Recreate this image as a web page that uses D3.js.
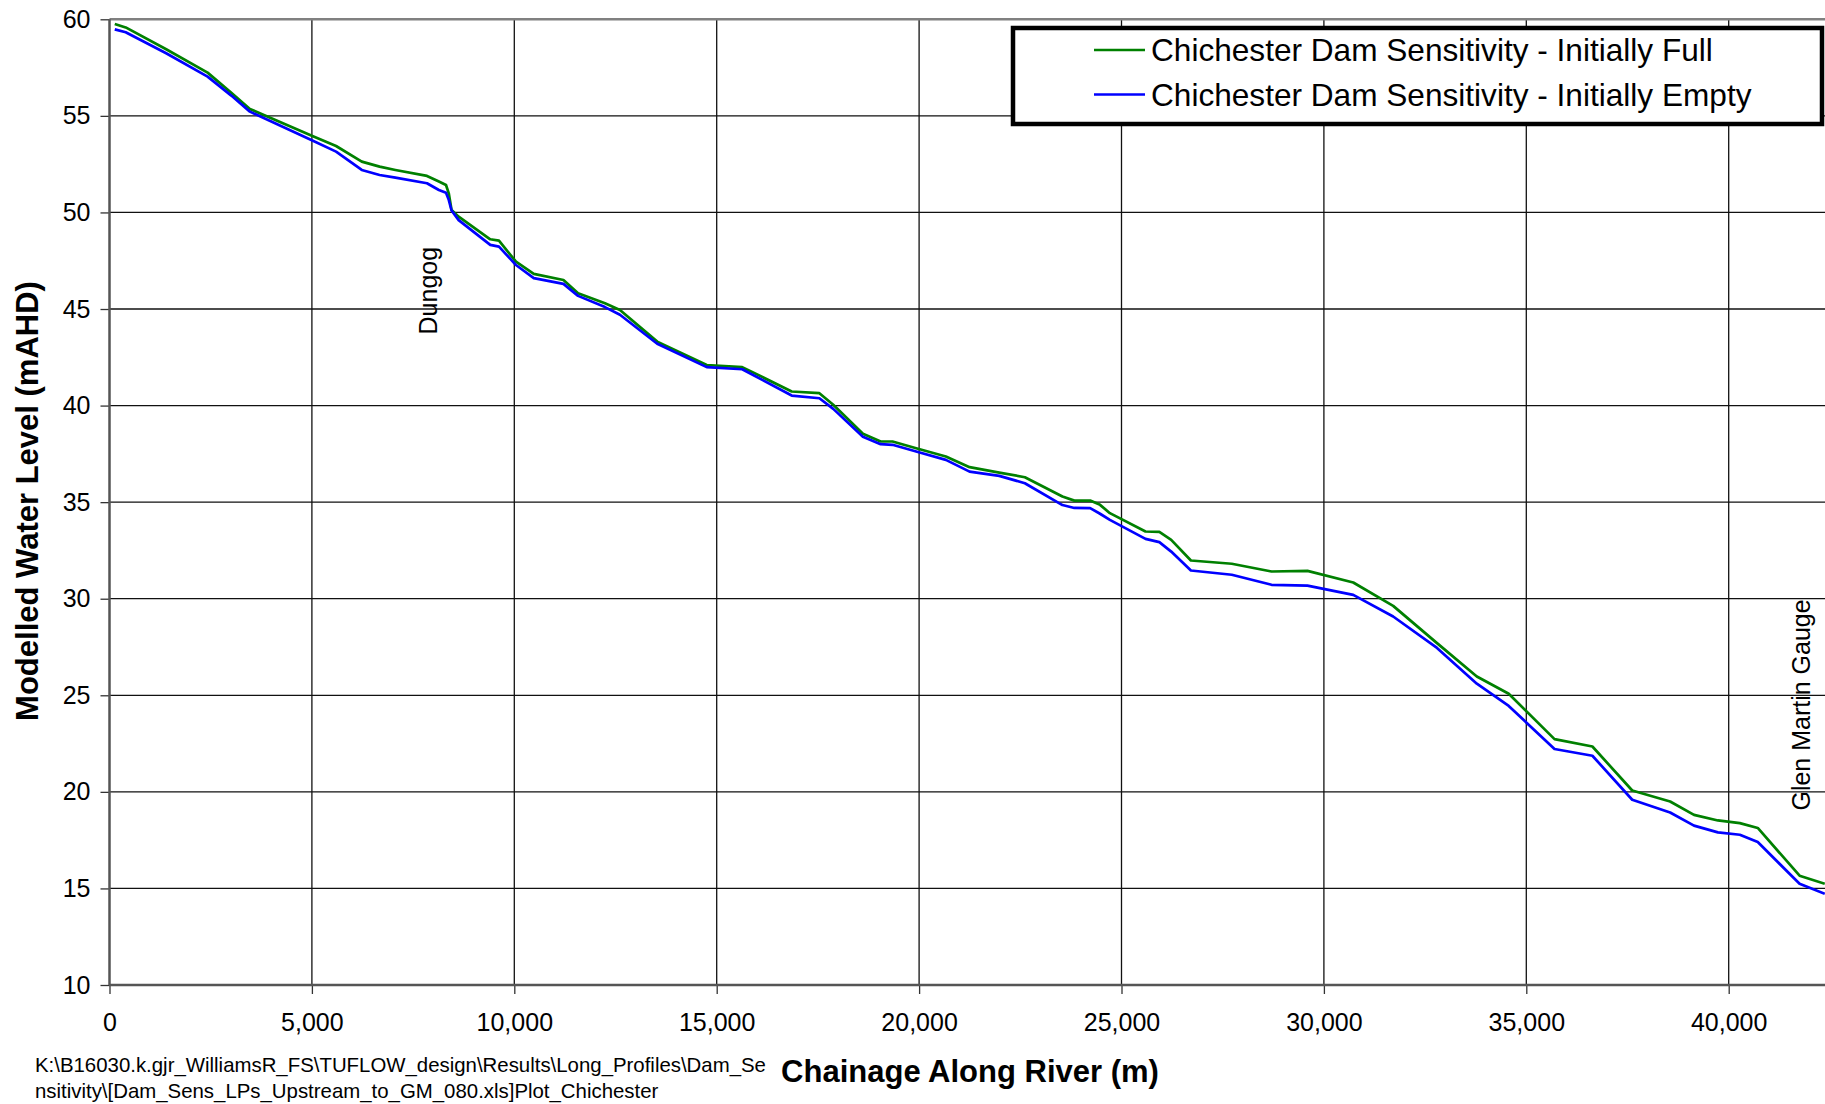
<!DOCTYPE html>
<html><head><meta charset="utf-8">
<script src="https://cdn.jsdelivr.net/npm/d3@7"></script>
<style>
html,body{margin:0;padding:0;background:#fff;overflow:hidden;}
text{font-family:"Liberation Sans",Arial,sans-serif;fill:#000;}
</style></head>
<body>
<svg id="chart" width="1825" height="1104"></svg>
<script>
// ---- data ----
const chainage = [130,400,1400,2423,3009,3468,5012,5597,6232,6672,7062,7843,8137,8313,8381,8450,8625,9406,9621,10041,10481,11214,11575,12240,12610,13531,14754,15630,16853,17537,17879,18612,19050,19343,19928,20661,21247,21980,22613,23541,23835,24226,24470,24713,25593,25935,26228,26715,27724,28706,29594,30725,31711,32794,33778,34566,35697,36633,37617,38553,39143,39733,40275,40718,41751,42373];
const initiallyFull = [59.76,59.58,58.45,57.24,56.2,55.36,53.96,53.44,52.63,52.37,52.2,51.89,51.6,51.42,50.99,50.13,49.78,48.61,48.54,47.45,46.82,46.5,45.82,45.3,44.95,43.31,42.1,41.99,40.73,40.64,40.04,38.54,38.14,38.14,37.79,37.36,36.81,36.53,36.29,35.29,35.08,35.08,34.86,34.43,33.48,33.46,33.05,31.98,31.81,31.41,31.44,30.84,29.63,27.7,25.97,25.08,22.73,22.35,20.07,19.5,18.81,18.52,18.38,18.13,15.66,15.24];
const initiallyEmpty = [59.48,59.33,58.24,57.03,56.05,55.22,53.72,53.15,52.2,51.94,51.8,51.51,51.16,51.02,50.65,50.1,49.6,48.32,48.23,47.28,46.6,46.3,45.68,45.1,44.7,43.2,41.99,41.88,40.52,40.38,39.83,38.39,38.0,37.97,37.62,37.19,36.58,36.36,35.98,34.85,34.7,34.69,34.4,34.08,33.1,32.93,32.44,31.46,31.24,30.72,30.68,30.2,29.08,27.45,25.6,24.45,22.22,21.87,19.59,18.93,18.25,17.9,17.78,17.4,15.24,14.72];
const seriesNames = ["Chichester Dam Sensitivity - Initially Full","Chichester Dam Sensitivity - Initially Empty"];
const seriesColors = ["#008000","#0000ff"];
const xTicks = [0,5000,10000,15000,20000,25000,30000,35000,40000];
const yTicks = [10,15,20,25,30,35,40,45,50,55,60];
const annotations = [{label:"Dungog", chainage:8100, level:45.95},{label:"Glen Martin Gauge", chainage:42000, level:24.5}];
const footnote = ["K:\\B16030.k.gjr_WilliamsR_FS\\TUFLOW_design\\Results\\Long_Profiles\\Dam_Se","nsitivity\\[Dam_Sens_LPs_Upstream_to_GM_080.xls]Plot_Chichester"];

// ---- layout ----
const svg = d3.select("#chart");
const mLeft = 109.5, mTop = 19.3, mBottom = 985;
const x = d3.scaleLinear().domain([0,45000]).range([mLeft, mLeft + 9*202.4]);
const y = d3.scaleLinear().domain([10,60]).range([mBottom, mTop]);
const mRight = x(45000);

// grid
const g = svg.append("g");
g.selectAll(".hg").data(yTicks.filter(v=>v>10 && v<60)).enter().append("line")
  .attr("x1", mLeft).attr("x2", mRight).attr("y1", d=>y(d)).attr("y2", d=>y(d))
  .attr("stroke","#111").attr("stroke-width",1.3);
g.selectAll(".vg").data(xTicks.filter(v=>v>0)).enter().append("line")
  .attr("y1", mTop).attr("y2", mBottom).attr("x1", d=>x(d)).attr("x2", d=>x(d))
  .attr("stroke","#111").attr("stroke-width",1.3);
g.append("line").attr("x1",mLeft).attr("x2",mRight).attr("y1",mTop).attr("y2",mTop)
  .attr("stroke","#808080").attr("stroke-width",2.5);

// axes
const xAxis = d3.axisBottom(x).tickValues(xTicks).tickSize(9).tickPadding(19)
  .tickFormat(d3.format(","));
const yAxis = d3.axisLeft(y).tickValues(yTicks).tickSize(9).tickPadding(10)
  .tickFormat(d3.format("d"));
const gx = svg.append("g").attr("transform",`translate(0,${mBottom})`).call(xAxis);
const gy = svg.append("g").attr("transform",`translate(${mLeft},0)`).call(yAxis);
[gx,gy].forEach(a=>{
  a.select(".domain").remove();
  a.selectAll(".tick line").attr("stroke","#333").attr("stroke-width",1.3);
  a.selectAll(".tick text").style("font-family","'Liberation Sans',Arial,sans-serif")
    .style("font-size","25px").attr("fill","#000");
});
svg.append("line").attr("x1",mLeft).attr("x2",mLeft).attr("y1",mTop).attr("y2",mBottom)
  .attr("stroke","#555").attr("stroke-width",2.5);
svg.append("line").attr("x1",mLeft).attr("x2",mRight).attr("y1",mBottom).attr("y2",mBottom)
  .attr("stroke","#555").attr("stroke-width",2.5);

// lines
const series = [initiallyFull, initiallyEmpty];
const line = d3.line().x(d=>x(d[0])).y(d=>y(d[1]));
series.forEach((vals,i)=>{
  svg.append("path").datum(chainage.map((c,j)=>[c,vals[j]]))
    .attr("d",line).attr("fill","none").attr("stroke",seriesColors[i])
    .attr("stroke-width",2.7).attr("stroke-linejoin","round");
});

// annotations (vertical text)
annotations.forEach(a=>{
  svg.append("text").attr("transform",`translate(${x(a.chainage)},${y(a.level)}) rotate(-90)`)
    .attr("text-anchor","middle").style("font-size","25px").text(a.label);
});

// legend
const lg = svg.append("g");
lg.append("rect").attr("x",1013).attr("y",28).attr("width",809).attr("height",96)
  .attr("fill","#fff").attr("stroke","#000").attr("stroke-width",4.5);
seriesNames.forEach((n,i)=>{
  const yy = 50 + i*44.5;
  lg.append("line").attr("x1",1094).attr("x2",1145).attr("y1",yy).attr("y2",yy)
    .attr("stroke",seriesColors[i]).attr("stroke-width",2.7);
  lg.append("text").attr("x",1151).attr("y",yy+11).style("font-size","31.6px").text(n);
});

// axis titles
svg.append("text").attr("x",970).attr("y",1082).attr("text-anchor","middle")
  .style("font-size","31px").style("font-weight","bold").text("Chainage Along River (m)");
svg.append("text").attr("transform","translate(38,501) rotate(-90)").attr("text-anchor","middle")
  .style("font-size","31px").style("font-weight","bold").text("Modelled Water Level (mAHD)");

// footnote
footnote.forEach((t,i)=>{
  svg.append("text").attr("x",35).attr("y",1071.5+i*26.5).style("font-size","20.4px").text(t);
});
</script>
</body></html>
